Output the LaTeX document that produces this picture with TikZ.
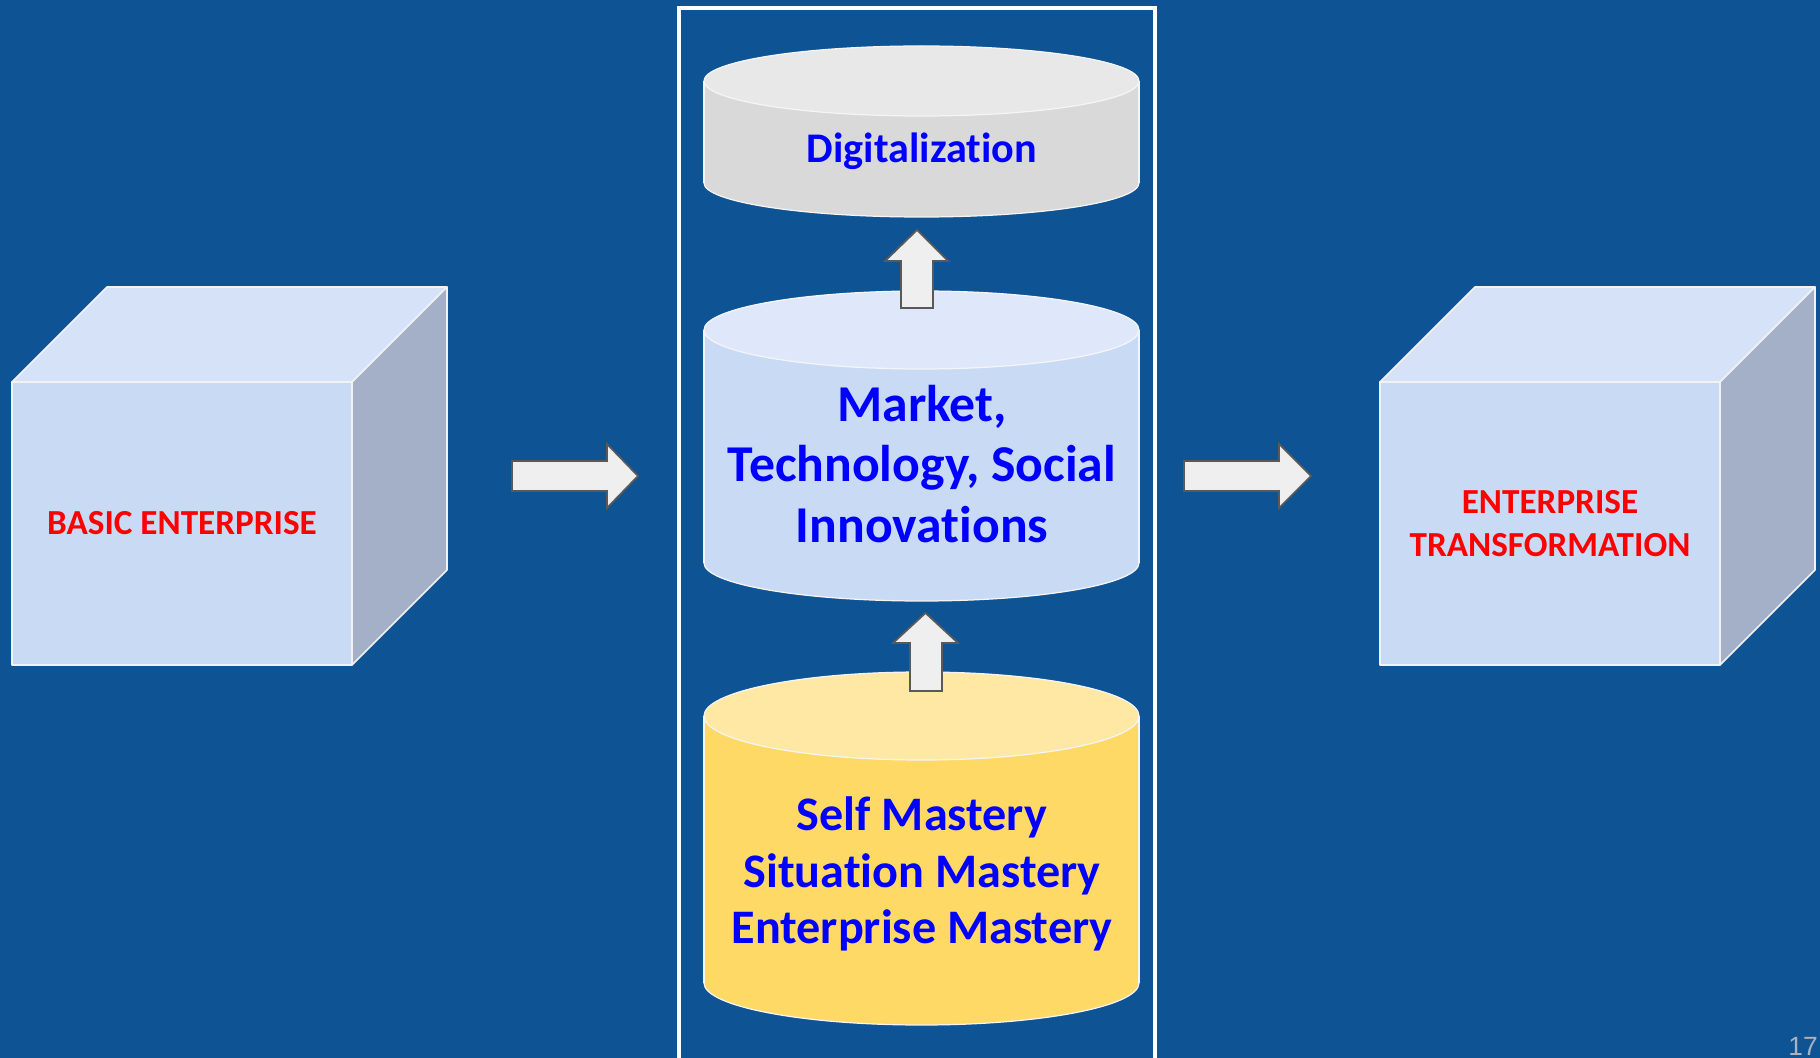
\documentclass[tikz,border=0pt]{standalone}
\usepackage{fontspec}
\setmainfont{Carlito}[Ligatures=NoCommon]
\newfontfamily\pagefont{Liberation Sans}
\usepackage{xcolor}
\usetikzlibrary{arrows.meta}

\definecolor{slideblue}{RGB}{14,83,148}
\definecolor{cubefront}{RGB}{201,218,245}
\definecolor{cubetop}{RGB}{214,226,247}
\definecolor{cubeside}{RGB}{164,176,199}
\definecolor{digitop}{RGB}{232,232,232}
\definecolor{digibody}{RGB}{217,217,217}
\definecolor{markettop}{RGB}{223,232,250}
\definecolor{marketbody}{RGB}{201,218,245}
\definecolor{masterytop}{RGB}{255,232,164}
\definecolor{masterybody}{RGB}{255,217,102}
\definecolor{arrowfill}{RGB}{239,239,239}
\definecolor{arrowline}{RGB}{89,89,89}
\definecolor{pagegray}{RGB}{170,178,192}

\tikzset{
    cubeedge/.style={draw=white!90!gray, line width=0.45pt, line join=round},
    cyledge/.style={draw=white!92!gray, line width=0.35pt},
    blockarrow/.style={fill=arrowfill, draw=arrowline, line width=0.5pt, line join=miter},
    bluelabel/.style={text=blue, font=\bfseries, align=center, inner sep=0pt},
    redlabel/.style={text=red, font=\bfseries\fontsize{10}{12.2}\selectfont, align=center, inner sep=0pt},
}

% box: left, top, width, height (depth 95)
\newcommand{\drawbox}[4]{%
    \filldraw[fill=cubefront, cubeedge] (#1,#2) rectangle (#1+#3,#2+#4);
    \filldraw[fill=cubetop, cubeedge] (#1,#2) -- (#1+95,#2-95) -- (#1+#3+95,#2-95) -- (#1+#3,#2) -- cycle;
    \filldraw[fill=cubeside, cubeedge] (#1+#3,#2) -- (#1+#3+95,#2-95) -- (#1+#3+95,#2+#4-95) -- (#1+#3,#2+#4) -- cycle;
}
% drum: cx, rx, ytop, ybottom, ry top, ry bottom, body, top
\newcommand{\drum}[8]{%
    \filldraw[fill=#7, cyledge] (#1,#4) ellipse [x radius=#2, y radius=#6];
    \fill[#7] (#1-#2,#3) rectangle (#1+#2,#4);
    \draw[cyledge] (#1-#2,#3) -- (#1-#2,#4) (#1+#2,#3) -- (#1+#2,#4);
    \filldraw[fill=#8, cyledge] (#1,#3) ellipse [x radius=#2, y radius=#5];
}

\begin{document}
\begin{tikzpicture}[x=0.01cm, y=-0.01cm]
    % background
    \fill[slideblue] (0,0) rectangle (1820,1058);
    \useasboundingbox (0,0) rectangle (1820,1058);

    % middle frame
    \draw[white, line width=1.1pt] (679,8) rectangle (1155,1075);

    % cubes
    \drawbox{12}{382}{340}{283}
    \drawbox{1380}{382}{340}{283}

    \node[redlabel, anchor=base] (basic) at (182,535) {BASIC ENTERPRISE};
    \node[redlabel] (transf) at (1550,523.5) {ENTERPRISE\\TRANSFORMATION};

    % drums
    \drum{921.5}{217.5}{81}{183}{35}{34}{digibody}{digitop}
    \drum{921.5}{217.5}{330}{563}{39}{38}{marketbody}{markettop}
    \drum{921.5}{217.5}{716}{983}{44}{42}{masterybody}{masterytop}

    \node[bluelabel, font=\bfseries\fontsize{12}{15}\selectfont, anchor=base]
        (digi) at (922,163) {Digitalization};
    \node[bluelabel, font=\bfseries\fontsize{14.7}{17.1}\selectfont]
        (market) at (922,464) {Market,\\Technology, Social\\Innovations};
    \node[bluelabel, font=\bfseries\fontsize{13.7}{16.1}\selectfont]
        (mastery) at (922,874) {Self Mastery\\Situation Mastery\\Enterprise Mastery};

    % block arrows
    \filldraw[blockarrow] (512,461) -- (607,461) -- (607,444) -- (638,476)
        -- (607,508) -- (607,491) -- (512,491) -- cycle;
    \filldraw[blockarrow] (1184,461) -- (1279,461) -- (1279,444) -- (1311,476)
        -- (1279,508) -- (1279,491) -- (1184,491) -- cycle;

    \filldraw[blockarrow] (901,308) -- (901,261) -- (885,261) -- (917,230)
        -- (948,261) -- (933,261) -- (933,308) -- cycle;
    \filldraw[blockarrow] (910,691) -- (910,643) -- (893,643) -- (925.5,613)
        -- (958,643) -- (942,643) -- (942,691) -- cycle;

    % page number
    \node[text=pagegray, font=\pagefont\fontsize{7.5}{9}\selectfont, anchor=base, inner sep=0pt]
        (pagenum) at (1803,1055) {17};
\end{tikzpicture}
\end{document}
